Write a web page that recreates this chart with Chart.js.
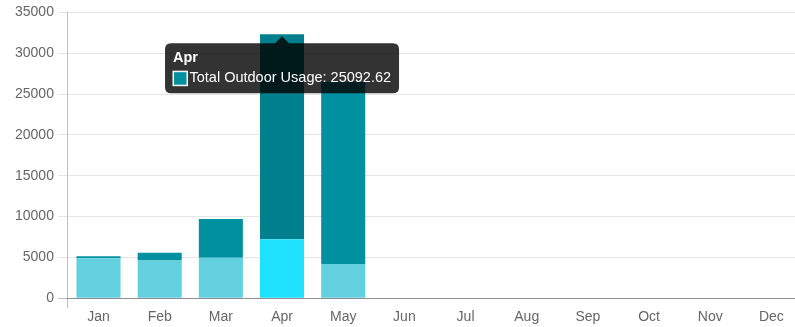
<!DOCTYPE html>
<html>
<head>
<meta charset="utf-8">
<script src="https://cdn.jsdelivr.net/npm/chart.js@4/dist/chart.umd.min.js"></script>
<style>
  html, body { margin: 0; padding: 0; background: #fff; overflow: hidden; }
  #wrap { width: 802px; height: 327px; }
</style>
</head>
<body>
<div id="wrap"><canvas id="chart-usage"></canvas></div>
<script>
'use strict';

const MONTHS = ['Jan', 'Feb', 'Mar', 'Apr', 'May', 'Jun', 'Jul', 'Aug', 'Sep', 'Oct', 'Nov', 'Dec'];
const INDOOR = [4900, 4620, 4940, 7220, 4200, null, null, null, null, null, null, null];
const OUTDOOR = [230, 940, 4760, 25092.62, 22300, null, null, null, null, null, null, null];
const Y_MIN = 0;
const Y_MAX = 35000;
const Y_STEP = 5000;
const HOVER_MONTH = 'Apr';

(() => {
  const TICK_FONT = { family: '"Liberation Sans", Arial, sans-serif', size: 14 };
  const GRID = 'rgba(0,0,0,0.1)';
  const AXIS = 'rgba(0,0,0,0.25)';

  const chart = new Chart(document.getElementById('chart-usage'), {
    type: 'bar',
    data: {
      labels: MONTHS,
      datasets: [{
        label: 'Total Indoor Usage',
        data: INDOOR,
        backgroundColor: '#63d0e0',
        hoverBackgroundColor: '#1fe1fe',
        borderWidth: 0
      }, {
        label: 'Total Outdoor Usage',
        data: OUTDOOR,
        backgroundColor: '#0090a0',
        hoverBackgroundColor: '#00808e',
        borderWidth: 0
      }]
    },
    options: {
      responsive: true,
      maintainAspectRatio: false,
      animation: false,
      events: [],
      layout: { padding: { left: 11, top: 12, right: 0, bottom: 0 } },
      datasets: { bar: { barPercentage: 0.9, categoryPercentage: 0.8 } },
      plugins: {
        legend: { display: false },
        tooltip: {
          xAlign: 'center',
          yAlign: 'top',
          backgroundColor: 'rgba(0,0,0,0.8)',
          titleFont: { family: TICK_FONT.family, size: 14.5, weight: 'bold' },
          bodyFont: { family: TICK_FONT.family, size: 14.5 },
          titleColor: '#fff',
          bodyColor: '#fff',
          padding: { left: 8, right: 8, top: 6, bottom: 6 },
          titleMarginBottom: 3,
          caretSize: 7,
          caretPadding: 2,
          cornerRadius: 6,
          boxPadding: 0,
          callbacks: {
            label: (item) => `${item.dataset.label}: ${item.raw}`,
            labelColor: (item) => ({
              borderColor: '#fff',
              backgroundColor: item.dataset.backgroundColor,
              borderWidth: 1
            })
          }
        }
      },
      scales: {
        x: {
          stacked: true,
          offset: true,
          grid: {
            drawOnChartArea: false,
            tickLength: 10,
            offset: true,
            color: (ctx) => (ctx.index === 0 ? AXIS : 'rgba(0,0,0,0)')
          },
          border: { color: AXIS },
          ticks: { color: '#666', font: TICK_FONT, padding: 1 }
        },
        y: {
          stacked: true,
          min: Y_MIN,
          max: Y_MAX,
          grid: {
            tickLength: 10,
            color: (ctx) => (ctx.tick && ctx.tick.value === 0 ? AXIS : GRID)
          },
          border: { color: AXIS },
          ticks: { stepSize: Y_STEP, color: '#666', font: TICK_FONT, padding: 4, callback: (v) => String(v) }
        }
      }
    }
  });

  const i = MONTHS.indexOf(HOVER_MONTH);
  chart.setActiveElements([{ datasetIndex: 0, index: i }, { datasetIndex: 1, index: i }]);
  const el = chart.getDatasetMeta(1).data[i];
  chart.tooltip.setActiveElements([{ datasetIndex: 1, index: i }], { x: el.x, y: el.y });
  chart.render();
})();
</script>
</body>
</html>
